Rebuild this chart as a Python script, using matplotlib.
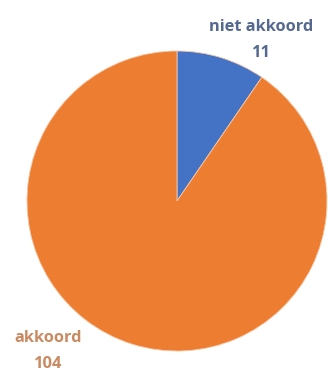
import matplotlib.pyplot as plt

# ----------------------------
# Data
# ----------------------------
labels = ["niet akkoord", "akkoord"]
counts = [11, 104]
colors = ["#4472C4", "#ED7D31"]
text_colors = ["#55688F", "#C98A62"]

# label anchor points (axes data units, pie radius = 1)
label_pos = [(0.56, 1.075), (-0.86, -1.0)]

plt.rcParams['font.family'] = ['Open Sans', 'DejaVu Sans']

fig = plt.figure(figsize=(3.28, 3.79), dpi=100)
ax = fig.add_axes([0, 0, 1, 1])

ax.pie(counts, colors=colors, startangle=90, counterclock=False,
       radius=1.0, wedgeprops=dict(edgecolor="#F6C9A8", linewidth=0.6))

for lab, n, c, (x, y) in zip(labels, counts, text_colors, label_pos):
    ax.text(x, y, f"{lab}\n{n}", ha="center", va="center", color=c,
            fontsize=11.8, fontweight="bold", linespacing=1.8)

ax.set_xlim(-177 / 150, 151 / 150)
ax.set_ylim(-178 / 150, 201 / 150)
ax.set_aspect("auto")
ax.axis("off")

fig.savefig("out.png", dpi=100)
